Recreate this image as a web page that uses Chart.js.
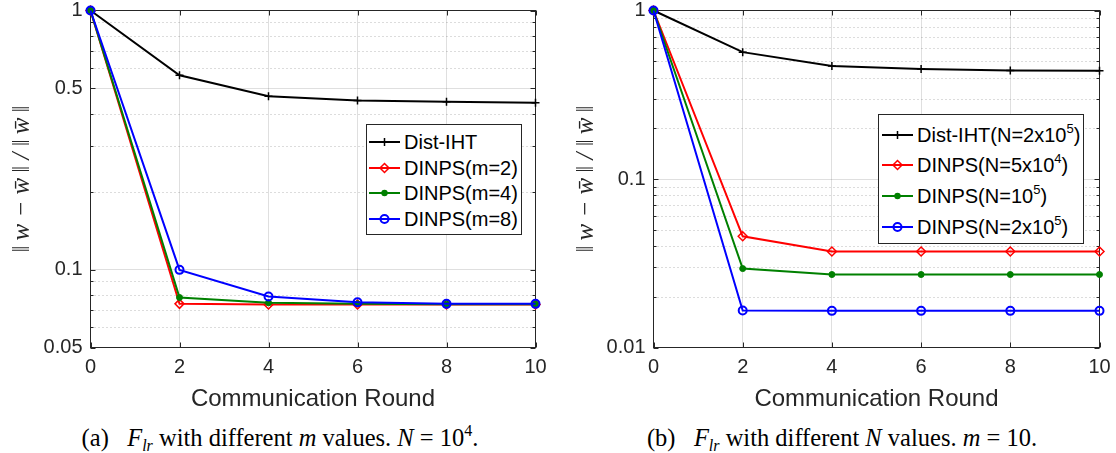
<!DOCTYPE html>
<html><head><meta charset="utf-8">
<script src="https://cdn.jsdelivr.net/npm/chart.js@4.4.1/dist/chart.umd.min.js"></script>
<style>
body{margin:0;width:1116px;height:453px;background:#fff;position:relative;overflow:hidden;font-family:"Liberation Sans",Arial,sans-serif;}
canvas{position:absolute;top:0;}
.legend{position:absolute;background:#fff;border:1px solid #262626;box-sizing:border-box;}
.item{position:absolute;height:24px;line-height:24px;font-size:20px;color:#000;white-space:nowrap;}
.item svg{position:absolute;top:0;}
.item span.t{position:absolute;top:0;}
.sup{font-size:13px;position:relative;top:-9px;}
.caption{position:absolute;top:424px;height:28px;line-height:28px;font-family:"Liberation Serif","Times New Roman",serif;font-size:24.5px;color:#000;white-space:nowrap;transform:translateX(-50%);}
.caption i{font-style:italic;}
.caption sub{font-size:16px;vertical-align:baseline;position:relative;top:5px;}
.caption sup{font-size:16px;vertical-align:baseline;position:relative;top:-10px;}
</style></head>
<body>
<canvas id="ca" width="558" height="420" style="left:0;width:558px;height:420px"></canvas>
<canvas id="cb" width="558" height="420" style="left:558px;width:558px;height:420px"></canvas>
<div id="legA" class="legend" style="left:366px;top:124px;width:156px;height:111px"></div>
<div id="legB" class="legend" style="left:878px;top:114px;width:206px;height:130px"></div>
<div class="caption" style="left:280px">(a)&ensp; <i>F<sub>lr</sub></i> with different <i>m</i> values. <i>N</i> = 10<sup>4</sup>.</div>
<div class="caption" style="left:842px">(b)&ensp; <i>F<sub>lr</sub></i> with different <i>N</i> values. <i>m</i> = 10.</div>
<script>
// ---------- data ----------
const rounds = [0, 2, 4, 6, 8, 10];
const xTicks = [0, 2, 4, 6, 8, 10];

// (a) different m values, N = 10^4
const a_labels = ['Dist-IHT', 'DINPS(m=2)', 'DINPS(m=4)', 'DINPS(m=8)'];
const a_distIHT = [1, 0.562, 0.467, 0.449, 0.444, 0.440];
const a_m2 = [1, 0.0737, 0.0733, 0.0733, 0.0733, 0.0733];
const a_m4 = [1, 0.0780, 0.0744, 0.0737, 0.0735, 0.0735];
const a_m8 = [1, 0.0997, 0.0787, 0.0748, 0.0737, 0.0737];
const a_majorTicks = [0.05, 0.1, 0.5, 1];
const a_minorTicks = [0.06, 0.07, 0.08, 0.09, 0.2, 0.3, 0.4, 0.6, 0.7, 0.8, 0.9];

// (b) different N values, m = 10
const b_labels = ['Dist-IHT(N=2x10<span class="sup">5</span>)', 'DINPS(N=5x10<span class="sup">4</span>)', 'DINPS(N=10<span class="sup">5</span>)', 'DINPS(N=2x10<span class="sup">5</span>)'];
const b_distIHT = [1, 0.566, 0.468, 0.449, 0.441, 0.439];
const b_N5e4 = [1, 0.0457, 0.0371, 0.0371, 0.0371, 0.0371];
const b_N1e5 = [1, 0.0294, 0.0271, 0.0271, 0.0271, 0.0271];
const b_N2e5 = [1, 0.0166, 0.0165, 0.0165, 0.0165, 0.0165];
const b_majorTicks = [0.01, 0.1, 1];
const b_minorTicks = [0.02, 0.03, 0.04, 0.05, 0.06, 0.07, 0.08, 0.09, 0.2, 0.3, 0.4, 0.5, 0.6, 0.7, 0.8, 0.9];

// ---------- styles ----------
const AX = '#262626';
const FONT = '"Liberation Sans", Arial, sans-serif';
const styles = [
  {color: '#000000', pointStyle: 'cross', radius: 4, pbw: 1.5, fill: '#000000', order: 3},
  {color: '#ff0000', pointStyle: 'rectRot', radius: 4.5, pbw: 1.5, fill: 'rgba(0,0,0,0)', order: 2},
  {color: '#008000', pointStyle: 'circle', radius: 3, pbw: 1, fill: '#008000', order: 1},
  {color: '#0000ff', pointStyle: 'circle', radius: 4, pbw: 2, fill: 'rgba(0,0,0,0)', order: 0}
];

const matlabAxes = {
  id: 'matlabAxes',
  beforeDatasetsDraw(chart, args, opts) {
    const {ctx, chartArea: {left, right, top, bottom}} = chart;
    const x = chart.scales.x, y = chart.scales.y;
    ctx.save();
    ctx.lineWidth = 1;
    ctx.strokeStyle = 'rgba(38,38,38,0.32)';
    ctx.setLineDash([1, 3]);
    opts.minor.forEach(v => {
      const py = Math.round(y.getPixelForValue(v)) + 0.5;
      ctx.beginPath(); ctx.moveTo(left, py); ctx.lineTo(right, py); ctx.stroke();
    });
    ctx.setLineDash([]);
    ctx.strokeStyle = AX;
    const tick = (v, len) => {
      const py = Math.round(y.getPixelForValue(v)) + 0.5;
      ctx.beginPath();
      ctx.moveTo(left, py); ctx.lineTo(left + len, py);
      ctx.moveTo(right, py); ctx.lineTo(right - len, py);
      ctx.stroke();
    };
    opts.major.forEach(v => tick(v, 5));
    opts.minor.forEach(v => tick(v, 3));
    xTicks.forEach(v => {
      const px = Math.round(x.getPixelForValue(v)) + 0.5;
      ctx.beginPath();
      ctx.moveTo(px, top); ctx.lineTo(px, top + 5);
      ctx.moveTo(px, bottom); ctx.lineTo(px, bottom - 5);
      ctx.stroke();
    });
    ctx.strokeRect(left, top, right - left, bottom - top);
    ctx.restore();
  }
};

function makeChart(id, series, labels, yMin, major, minor, geom) {
  const datasets = series.map((vals, i) => {
    const s = styles[i];
    return {
      label: labels[i],
      data: rounds.map((r, k) => ({x: r, y: vals[k]})),
      borderColor: s.color, backgroundColor: s.color, borderWidth: 2,
      pointStyle: s.pointStyle, pointRadius: s.radius, pointBorderWidth: s.pbw,
      pointBorderColor: s.color, pointBackgroundColor: s.fill,
      tension: 0, clip: false, order: s.order
    };
  });
  return new Chart(document.getElementById(id), {
    type: 'line',
    data: {datasets},
    plugins: [matlabAxes],
    options: {
      responsive: false, animation: false, devicePixelRatio: 1,
      layout: {padding: {top: 10.5, right: geom.right, bottom: 0, left: 0}},
      plugins: {legend: {display: false}, tooltip: {enabled: false},
        matlabAxes: {major, minor}},
      scales: {
        x: {
          type: 'linear', min: 0, max: 10,
          afterBuildTicks: s => { s.ticks = xTicks.map(v => ({value: v})); },
          afterFit: s => { s.height = 72.5; s.paddingLeft = 0; s.paddingRight = 0; },
          grid: {color: 'rgba(38,38,38,0.15)', lineWidth: 1, drawTicks: false},
          border: {display: false},
          ticks: {padding: 8, color: AX, font: {size: 20, family: FONT}, maxRotation: 0, autoSkip: false},
          title: {display: true, text: 'Communication Round', color: AX,
            font: {size: 24, family: FONT}, padding: {top: 0, bottom: 6}}
        },
        y: {
          type: 'logarithmic', min: yMin, max: 1,
          afterBuildTicks: s => { s.ticks = major.map(v => ({value: v})); },
          afterFit: s => { s.width = geom.yWidth; s.paddingTop = 0; s.paddingBottom = 0; },
          grid: {color: 'rgba(38,38,38,0.15)', lineWidth: 1, drawTicks: false},
          border: {display: false},
          ticks: {padding: 8, color: AX, font: {size: 20, family: FONT}, autoSkip: false,
            callback: v => String(v)},
          title: {display: true,
            text: '\u2016\u2009w \u2212 w\u0304\u2009\u2016 / \u2016\u2009w\u0304\u2009\u2016', color: AX,
            font: {size: 25, family: '"Liberation Serif", "DejaVu Serif", serif', style: 'italic'},
            padding: {top: geom.titlePad, bottom: 0}}
        }
      }
    }
  });
}

makeChart('ca', [a_distIHT, a_m2, a_m4, a_m8], a_labels, 0.05, a_majorTicks, a_minorTicks,
  {right: 22.5, yWidth: 90.5, titlePad: 7});
makeChart('cb', [b_distIHT, b_N5e4, b_N1e5, b_N2e5], b_labels, 0.01, b_majorTicks, b_minorTicks,
  {right: 16.5, yWidth: 95.5, titlePad: 13});

// ---------- legends ----------
function markerSvg(i) {
  const s = styles[i];
  let m = '';
  if (i === 0) m = `<path d="M15.5 12 h8 M19.5 8 v8" stroke="${s.color}" stroke-width="1.5"/>`;
  if (i === 1) m = `<path d="M19.5 7.5 L24 12 L19.5 16.5 L15 12 Z" fill="none" stroke="${s.color}" stroke-width="1.5"/>`;
  if (i === 2) m = `<circle cx="19.5" cy="12" r="3.2" fill="${s.color}"/>`;
  if (i === 3) m = `<circle cx="19.5" cy="12" r="4" fill="none" stroke="${s.color}" stroke-width="2"/>`;
  return `<svg width="40" height="24" viewBox="0 0 40 24"><path d="M4 12 H35" stroke="${s.color}" stroke-width="2"/>${m}</svg>`;
}
function buildLegend(id, labels, tops, textLeft, lineLeft) {
  const el = document.getElementById(id);
  labels.forEach((lab, i) => {
    const d = document.createElement('div');
    d.className = 'item';
    d.style.top = tops[i] + 'px';
    d.style.left = '0px';
    d.innerHTML = `<span style="position:absolute;left:${lineLeft}px;top:0">${markerSvg(i)}</span><span class="t" style="left:${textLeft}px">${lab}</span>`;
    el.appendChild(d);
  });
}
buildLegend('legA', a_labels, [5, 31, 56, 82], 37, -2);
buildLegend('legB', b_labels, [8, 38, 69, 100], 38, -1);
</script>
</body></html>
